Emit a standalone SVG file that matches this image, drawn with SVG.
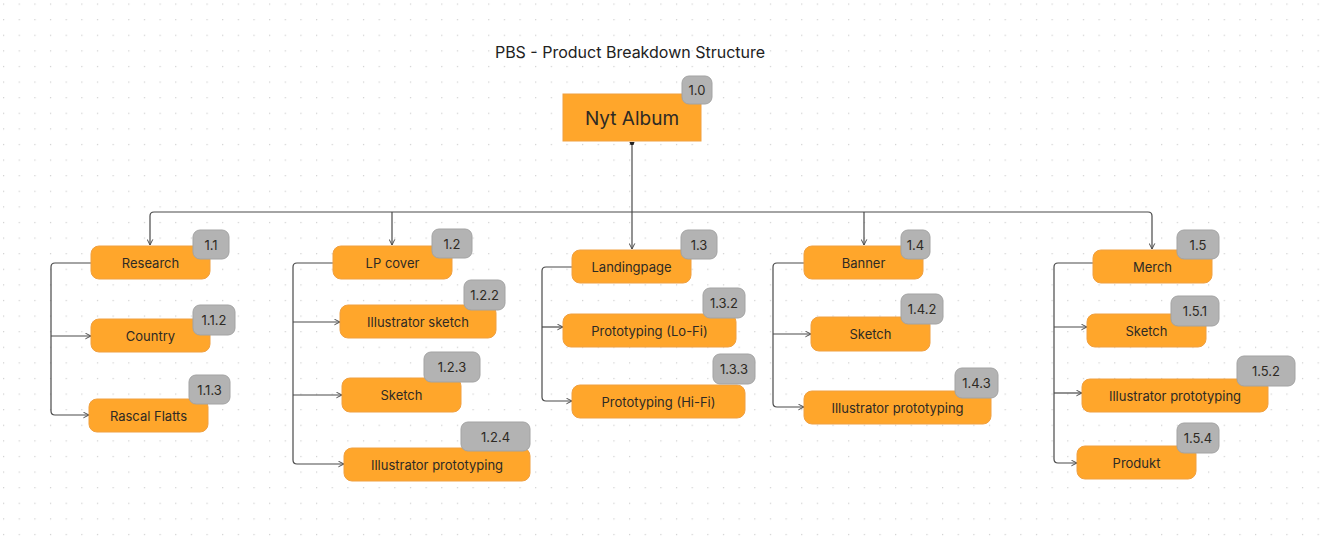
<svg xmlns="http://www.w3.org/2000/svg" width="1329" height="541" viewBox="0 0 1329 541">
<style>
.n{fill:#FFA62B;stroke:#F0A040;stroke-width:1}
.b{fill:#B3B3B3;stroke:#A3A3A3;stroke-width:1}
.t{font-family:Inter,"Noto Sans","Liberation Sans",sans-serif;font-size:13px;fill:#2E2A24;text-anchor:middle;dominant-baseline:central}
.c{fill:none;stroke:#4A4A4A;stroke-width:1.2}
</style>
<defs>
<pattern id="dots" x="3" y="3.5" width="15.65" height="15.6" patternUnits="userSpaceOnUse">
<rect x="0" y="0" width="1.2" height="1.2" fill="#CFCFCF"/>
</pattern>
<marker id="ar" viewBox="0 0 10 10" refX="9" refY="5" markerWidth="7" markerHeight="7" markerUnits="userSpaceOnUse" orient="auto">
<path d="M1,1 L9,5 L1,9" fill="none" stroke="#4A4A4A" stroke-width="1.4"/>
</marker>
</defs>
<rect width="1329" height="541" fill="#FFFFFF"/>
<rect width="1329" height="541" fill="url(#dots)"/>
<text x="630" y="52" style="font-family:Inter,'Noto Sans','Liberation Sans',sans-serif;font-size:16px;fill:#222;text-anchor:middle;dominant-baseline:central">PBS - Product Breakdown Structure</text>

<g id="connectors">
<path class="c" d="M632,143 V212"/>
<path d="M629.5,142 h5 l-1,3 h-3 z" fill="#222"/>
<path class="c" d="M632,212 H154 Q150,212 150,216 V245" marker-end="url(#ar)"/>
<path class="c" d="M632,212 H1148 Q1152,212 1152,216 V249" marker-end="url(#ar)"/>
<path class="c" d="M392,212 V245" marker-end="url(#ar)"/>
<path class="c" d="M632,212 V249" marker-end="url(#ar)"/>
<path class="c" d="M864,212 V245" marker-end="url(#ar)"/>
<path class="c" d="M91,263 H55 Q51,263 51,267 V411 Q51,415 55,415 H89" marker-end="url(#ar)"/>
<path class="c" d="M51,336 H91" marker-end="url(#ar)"/>
<path class="c" d="M333,263 H297 Q293,263 293,267 V460 Q293,464 297,464 H344" marker-end="url(#ar)"/>
<path class="c" d="M293,322 H340" marker-end="url(#ar)"/>
<path class="c" d="M293,395 H342" marker-end="url(#ar)"/>
<path class="c" d="M572,267 H546 Q542,267 542,271 V397 Q542,401 546,401 H572" marker-end="url(#ar)"/>
<path class="c" d="M542,327 H563" marker-end="url(#ar)"/>
<path class="c" d="M804,263 H777 Q773,263 773,267 V403 Q773,407 777,407 H804" marker-end="url(#ar)"/>
<path class="c" d="M773,334 H811" marker-end="url(#ar)"/>
<path class="c" d="M1093,263 H1058 Q1054,263 1054,267 V459 Q1054,463 1058,463 H1077" marker-end="url(#ar)"/>
<path class="c" d="M1054,327 H1087" marker-end="url(#ar)"/>
<path class="c" d="M1054,393 H1082" marker-end="url(#ar)"/>
</g>

<g id="n10">
<rect class="n" x="563" y="94" width="138" height="47"/>
<text class="t" x="632" y="118" style="font-size:19px">Nyt Album</text>
<rect class="b" x="682" y="76" width="30" height="28" rx="7"/>
<text class="t" x="697" y="90">1.0</text>
</g>

<g id="n11">
<rect class="n" x="91" y="246" width="119" height="33" rx="8"/>
<text class="t" x="150.5" y="263">Research</text>
<rect class="b" x="193" y="230" width="36" height="29" rx="7"/>
<text class="t" x="211" y="244.5">1.1</text>
</g>
<g id="n112">
<rect class="n" x="91" y="319" width="119" height="33" rx="8"/>
<text class="t" x="150.5" y="336">Country</text>
<rect class="b" x="193" y="305" width="42" height="30" rx="7"/>
<text class="t" x="214" y="320">1.1.2</text>
</g>
<g id="n113">
<rect class="n" x="89" y="399" width="119" height="33" rx="8"/>
<text class="t" x="148.5" y="416">Rascal Flatts</text>
<rect class="b" x="189" y="375" width="41" height="29" rx="7"/>
<text class="t" x="209.5" y="389.5">1.1.3</text>
</g>

<g id="n12">
<rect class="n" x="333" y="246" width="119" height="33" rx="8"/>
<text class="t" x="392.5" y="263">LP cover</text>
<rect class="b" x="432" y="229" width="40" height="29" rx="7"/>
<text class="t" x="452" y="243.5">1.2</text>
</g>
<g id="n122">
<rect class="n" x="340" y="305" width="156" height="33" rx="8"/>
<text class="t" x="418" y="322">Illustrator sketch</text>
<rect class="b" x="464" y="280" width="41" height="30" rx="7"/>
<text class="t" x="484.5" y="295">1.2.2</text>
</g>
<g id="n123">
<rect class="n" x="342" y="378" width="119" height="34" rx="8"/>
<text class="t" x="401.5" y="395">Sketch</text>
<rect class="b" x="424" y="352" width="56" height="30" rx="7"/>
<text class="t" x="452" y="367">1.2.3</text>
</g>
<g id="n124">
<rect class="n" x="344" y="448" width="186" height="33" rx="8"/>
<text class="t" x="437" y="465">Illustrator prototyping</text>
<rect class="b" x="461" y="422" width="69" height="29" rx="7"/>
<text class="t" x="495.5" y="436.5">1.2.4</text>
</g>

<g id="n13">
<rect class="n" x="572" y="250" width="119" height="33" rx="8"/>
<text class="t" x="631.5" y="267">Landingpage</text>
<rect class="b" x="681" y="230" width="36" height="29" rx="7"/>
<text class="t" x="699" y="244.5">1.3</text>
</g>
<g id="n132">
<rect class="n" x="563" y="314" width="173" height="33" rx="8"/>
<text class="t" x="649.5" y="331">Prototyping (Lo-Fi)</text>
<rect class="b" x="703" y="288" width="42" height="30" rx="7"/>
<text class="t" x="724" y="303">1.3.2</text>
</g>
<g id="n133">
<rect class="n" x="572" y="385" width="173" height="33" rx="8"/>
<text class="t" x="658.5" y="402">Prototyping (Hi-Fi)</text>
<rect class="b" x="713" y="354" width="42" height="30" rx="7"/>
<text class="t" x="734" y="369">1.3.3</text>
</g>

<g id="n14">
<rect class="n" x="804" y="246" width="119" height="33" rx="8"/>
<text class="t" x="863.5" y="263">Banner</text>
<rect class="b" x="901" y="230" width="29" height="29" rx="7"/>
<text class="t" x="915.5" y="244.5">1.4</text>
</g>
<g id="n142">
<rect class="n" x="811" y="317" width="119" height="34" rx="8"/>
<text class="t" x="870.5" y="334">Sketch</text>
<rect class="b" x="901" y="294" width="42" height="30" rx="7"/>
<text class="t" x="922" y="309">1.4.2</text>
</g>
<g id="n143">
<rect class="n" x="804" y="391" width="187" height="33" rx="8"/>
<text class="t" x="897.5" y="408">Illustrator prototyping</text>
<rect class="b" x="955" y="368" width="43" height="30" rx="7"/>
<text class="t" x="976.5" y="383">1.4.3</text>
</g>

<g id="n15">
<rect class="n" x="1093" y="250" width="119" height="33" rx="8"/>
<text class="t" x="1152.5" y="267">Merch</text>
<rect class="b" x="1177" y="230" width="42" height="29" rx="7"/>
<text class="t" x="1198" y="244.5">1.5</text>
</g>
<g id="n151">
<rect class="n" x="1087" y="314" width="119" height="33" rx="8"/>
<text class="t" x="1146.5" y="331">Sketch</text>
<rect class="b" x="1171" y="296" width="48" height="30" rx="7"/>
<text class="t" x="1195" y="311">1.5.1</text>
</g>
<g id="n152">
<rect class="n" x="1082" y="379" width="186" height="33" rx="8"/>
<text class="t" x="1175" y="396">Illustrator prototyping</text>
<rect class="b" x="1237" y="356" width="58" height="30" rx="7"/>
<text class="t" x="1266" y="371">1.5.2</text>
</g>
<g id="n154">
<rect class="n" x="1077" y="446" width="119" height="33" rx="8"/>
<text class="t" x="1136.5" y="463">Produkt</text>
<rect class="b" x="1177" y="423" width="42" height="30" rx="7"/>
<text class="t" x="1198" y="438">1.5.4</text>
</g>
</svg>
